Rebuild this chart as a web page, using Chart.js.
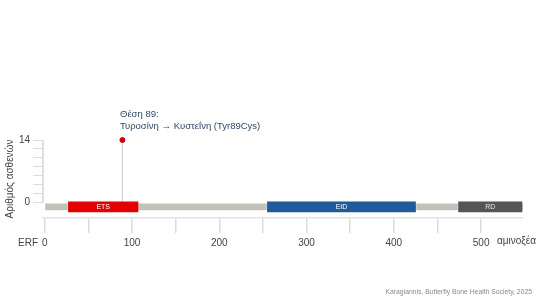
<!DOCTYPE html>
<html>
<head>
<meta charset="utf-8">
<script src="https://cdn.jsdelivr.net/npm/chart.js@4/dist/chart.umd.min.js"></script>
<style>
  html, body { margin: 0; padding: 0; background: #fff; }
  body { width: 543px; height: 306px; position: relative; overflow: hidden;
         font-family: "Liberation Sans", Arial, sans-serif; }
  #wrap { position: absolute; left: 0; top: 0; width: 543px; height: 306px; }
  .txt { position: absolute; white-space: nowrap; }
  #note { left: 120px; top: 108px; font-size: 9.5px; line-height: 12px; color: #2f4a66; }
  #gene { left: 18px; top: 237px; font-size: 10px; color: #444; }
  #unit { left: 497px; top: 235px; font-size: 10px; color: #444; }
  #credit { right: 11px; top: 288px; font-size: 6.8px; color: #8a8a8a; }
</style>
</head>
<body>
<div id="wrap"><canvas id="chart" width="543" height="306"></canvas></div>
<div class="txt" id="note">Θέση 89:<br>Τυροσίνη → Κυστεΐνη (Tyr89Cys)</div>
<div class="txt" id="gene">ERF</div>
<div class="txt" id="unit">αμινοξέα</div>
<div class="txt" id="credit">Karagiannis, Butterfly Bone Health Society, 2025</div>
<script>
'use strict';

// ── Protein data (ERF, amino acids) ───────────────────────────────────
const proteinLength = 548;
const trackY = -1;                       // protein track sits just under 0
const domainNames  = ['ETS', 'EID', 'RD'];
const domainStart  = [26, 254, 473];
const domainEnd    = [108, 426, 548];
const domainColors = ['#E50000', '#1F5B98', '#555555'];

// ── Mutation lollipop ─────────────────────────────────────────────────
const mutationPos   = [89];
const patientCount  = [14];

// ── Ticks ─────────────────────────────────────────────────────────────
const xTickValues = [0, 50, 100, 150, 200, 250, 300, 350, 400, 450, 500];
const yTickValues = [0, 2, 4, 6, 8, 10, 12, 14];

const FONT = '"Liberation Sans", Arial, sans-serif';

// ── Plugins: y axis line + domain labels ──────────────────────────────
const yAxisLine = {
  id: 'yAxisLine',
  beforeDatasetsDraw(chart) {
    const { ctx, scales: { y }, chartArea } = chart;
    ctx.save();
    ctx.strokeStyle = '#d6d6d6';
    ctx.lineWidth = 1.5;
    ctx.beginPath();
    ctx.moveTo(chartArea.left, y.getPixelForValue(yTickValues[yTickValues.length - 1]));
    ctx.lineTo(chartArea.left, y.getPixelForValue(0));
    ctx.stroke();
    ctx.restore();
  },
};

const domainLabels = {
  id: 'domainLabels',
  afterDatasetsDraw(chart) {
    const meta = chart.getDatasetMeta(1);
    const { ctx } = chart;
    ctx.save();
    ctx.font = '7px ' + FONT;
    ctx.textAlign = 'center';
    ctx.textBaseline = 'middle';
    meta.data.forEach((bar, i) => {
      ctx.fillStyle = i === 2 ? '#e8e8e8' : '#ffffff';
      ctx.fillText(domainNames[i], (bar.x + bar.base) / 2, bar.y + 0.5);
    });
    ctx.restore();
  },
};

new Chart(document.getElementById('chart'), {
  data: {
    datasets: [
      {
        type: 'bar', indexAxis: 'y', grouped: false, order: 4,
        data: [{ x: [0, proteinLength], y: trackY }],
        backgroundColor: '#c2c1ba', barThickness: 6, borderWidth: 0,
      },
      {
        type: 'bar', indexAxis: 'y', grouped: false, order: 2,
        data: domainStart.map((s, i) => ({ x: [s, domainEnd[i]], y: trackY })),
        backgroundColor: domainColors,
        borderColor: 'rgba(255,255,255,0.35)', borderWidth: 1, borderSkipped: false,
        barThickness: 12,
      },
      {
        type: 'line', order: 3, clip: false,
        data: [{ x: mutationPos[0], y: trackY }, { x: mutationPos[0], y: patientCount[0] }],
        borderColor: '#d4d4d4', borderWidth: 1.2, pointRadius: 0,
      },
      {
        type: 'scatter', order: 1, clip: false,
        data: mutationPos.map((p, i) => ({ x: p, y: patientCount[i] })),
        backgroundColor: '#d40000', borderColor: '#d40000', pointRadius: 2.5,
      },
    ],
  },
  options: {
    responsive: false,
    animation: false,
    layout: { padding: { top: 140, right: 20, bottom: 0, left: 0 } },
    plugins: { legend: { display: false }, tooltip: { enabled: false } },
    scales: {
      x: {
        type: 'linear', min: -2, max: proteinLength, offset: false,
        afterBuildTicks: s => { s.ticks = xTickValues.map(v => ({ value: v })); },
        afterFit: s => { s.height = 88; },
        border: { display: true, color: '#e2e2e2', width: 1.5 },
        grid: { drawOnChartArea: false, tickLength: 15, color: '#dcdcdc', lineWidth: 1.5, offset: false },
        ticks: {
          autoSkip: false, maxRotation: 0, padding: 4, color: '#444',
          font: { size: 10, family: FONT },
          callback: v => (v % 100 === 0 ? v : ''),
        },
      },
      y: {
        type: 'linear', min: -3.5, max: 14, offset: false,
        afterBuildTicks: s => { s.ticks = yTickValues.map(v => ({ value: v })); },
        afterFit: s => { s.width = 43; },
        border: { display: false },
        grid: { drawOnChartArea: false, tickLength: 10, color: '#dcdcdc', lineWidth: 1, offset: false },
        ticks: {
          autoSkip: false, padding: 3, color: '#444',
          font: { size: 10, family: FONT },
          callback: v => (v === 0 || v === 14 ? v : ''),
        },
        title: {
          display: true, text: 'Αριθμός ασθενών', color: '#444',
          font: { size: 10, family: FONT },
          padding: { top: 4, bottom: 0 },
        },
      },
    },
  },
  plugins: [yAxisLine, domainLabels],
});
</script>
</body>
</html>
